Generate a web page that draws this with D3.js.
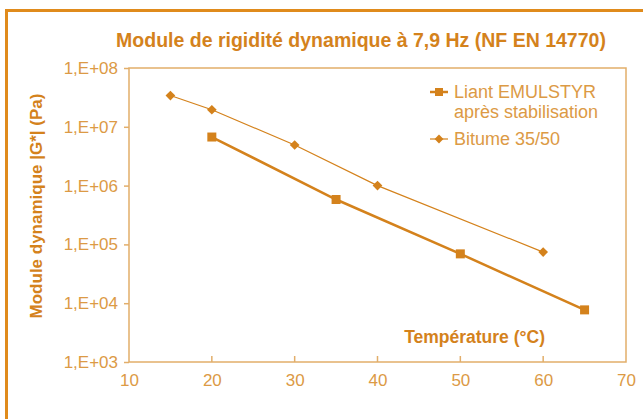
<!DOCTYPE html>
<html>
<head>
<meta charset="utf-8">
<script src="https://cdn.jsdelivr.net/npm/d3@7"></script>
<style>
  body { margin: 0; background: #fff; }
  svg { display: block; font-family: "Liberation Sans", Arial, sans-serif; }
</style>
</head>
<body>
<div id="chart"></div>
<script>
var emulstyrTemp = [20, 35, 50, 65],
    emulstyrG = [6.7e6, 5.8e5, 6.9e4, 7.7e3],
    bitumeTemp = [15, 20, 30, 40, 60],
    bitumeG = [3.4e7, 1.95e7, 4.9e6, 1.0e6, 7.4e4];

var xTicks = [10, 20, 30, 40, 50, 60, 70],
    yTicks = [1e3, 1e4, 1e5, 1e6, 1e7, 1e8],
    yTickLabels = ['1,E+03', '1,E+04', '1,E+05', '1,E+06', '1,E+07', '1,E+08'];

var width = 643,
    height = 419,
    plotLeft = 129,
    plotRight = 626,
    plotTop = 68,
    plotBottom = 362;

var dark = '#d4821c',
    light = '#dc9a45',
    frame = '#e2ae6a';

var svg = d3.select('#chart').append('svg')
    .attr('width', width)
    .attr('height', height);

// outer frame
svg.append('rect')
    .attr('x', 6.5).attr('y', 10.5)
    .attr('width', 660).attr('height', 440)
    .attr('fill', 'none')
    .attr('stroke', '#e08b1c')
    .attr('stroke-width', 3);

var x = d3.scaleLinear().domain([10, 70]).range([plotLeft, plotRight]);
var y = d3.scaleLog().domain([1e3, 1e8]).range([plotBottom, plotTop]);

// plot box
svg.append('rect')
    .attr('x', plotLeft).attr('y', plotTop)
    .attr('width', plotRight - plotLeft).attr('height', plotBottom - plotTop)
    .attr('fill', 'none')
    .attr('stroke', frame)
    .attr('stroke-width', 1.5);

var yAxis = svg.append('g')
    .attr('transform', 'translate(' + plotLeft + ',0)')
    .call(d3.axisLeft(y).tickValues(yTicks).tickSize(5).tickPadding(6)
        .tickFormat(function(d, i) { return yTickLabels[i]; }));

var xAxis = svg.append('g')
    .attr('transform', 'translate(0,' + plotBottom + ')')
    .call(d3.axisBottom(x).tickValues(xTicks).tickSize(0).tickPadding(12));

[yAxis, xAxis].forEach(function(a) {
    a.select('.domain').remove();
    a.selectAll('line').attr('stroke', frame).attr('stroke-width', 1.5);
    a.selectAll('text')
        .attr('fill', light)
        .style('font-size', '17px')
        .style('font-family', '"Liberation Sans", Arial, sans-serif');
});

// x ticks pointing up inside
svg.append('g').selectAll('line')
    .data(xTicks.slice(1, -1))
    .enter()
    .append('line')
    .attr('x1', function(d) { return x(d); })
    .attr('x2', function(d) { return x(d); })
    .attr('y1', plotBottom)
    .attr('y2', plotBottom - 6)
    .attr('stroke', frame)
    .attr('stroke-width', 1.5);

var line = d3.line()
    .x(function(d) { return x(d[0]); })
    .y(function(d) { return y(d[1]); });

var emul = d3.zip(emulstyrTemp, emulstyrG),
    bit = d3.zip(bitumeTemp, bitumeG);

svg.append('path')
    .datum(bit)
    .attr('d', line)
    .attr('fill', 'none')
    .attr('stroke', dark)
    .attr('stroke-width', 1.2);

svg.append('path')
    .datum(emul)
    .attr('d', line)
    .attr('fill', 'none')
    .attr('stroke', dark)
    .attr('stroke-width', 2.5);

var diamond = d3.symbol().type(d3.symbolDiamond2).size(60);

svg.append('g').selectAll('path')
    .data(bit)
    .enter()
    .append('path')
    .attr('d', diamond)
    .attr('transform', function(d) { return 'translate(' + x(d[0]) + ',' + y(d[1]) + ')'; })
    .attr('fill', dark);

svg.append('g').selectAll('rect')
    .data(emul)
    .enter()
    .append('rect')
    .attr('x', function(d) { return x(d[0]) - 4.5; })
    .attr('y', function(d) { return y(d[1]) - 4.5; })
    .attr('width', 9)
    .attr('height', 9)
    .attr('fill', dark);

// legend
var legend = svg.append('g').attr('transform', 'translate(430,92)');
legend.append('line').attr('x1', 0).attr('x2', 18).attr('y1', 0).attr('y2', 0)
    .attr('stroke', dark).attr('stroke-width', 2.5);
legend.append('rect').attr('x', 5).attr('y', -4).attr('width', 8).attr('height', 8).attr('fill', dark);
legend.append('text').attr('x', 24).attr('y', 6).text('Liant EMULSTYR')
    .attr('fill', light).style('font-size', '18px');
legend.append('text').attr('x', 24).attr('y', 26).text('après stabilisation')
    .attr('fill', light).style('font-size', '18px');

legend.append('line').attr('x1', 0).attr('x2', 18).attr('y1', 47).attr('y2', 47)
    .attr('stroke', dark).attr('stroke-width', 1.2);
legend.append('path').attr('d', d3.symbol().type(d3.symbolDiamond2).size(50))
    .attr('transform', 'translate(9,47)').attr('fill', dark);
legend.append('text').attr('x', 24).attr('y', 53).text('Bitume 35/50')
    .attr('fill', light).style('font-size', '18px');

// titles
svg.append('text')
    .attr('x', 361).attr('y', 47)
    .attr('text-anchor', 'middle')
    .attr('fill', dark)
    .style('font-size', '19.5px')
    .style('font-weight', 'bold')
    .text('Module de rigidité dynamique à 7,9 Hz (NF EN 14770)');

svg.append('text')
    .attr('x', 545).attr('y', 343)
    .attr('text-anchor', 'end')
    .attr('fill', dark)
    .style('font-size', '17.5px')
    .style('font-weight', 'bold')
    .text('Température (°C)');

svg.append('text')
    .attr('transform', 'translate(42,206) rotate(-90)')
    .attr('text-anchor', 'middle')
    .attr('fill', dark)
    .style('font-size', '17px')
    .style('font-weight', 'bold')
    .text('Module dynamique |G*| (Pa)');
</script>
</body>
</html>
